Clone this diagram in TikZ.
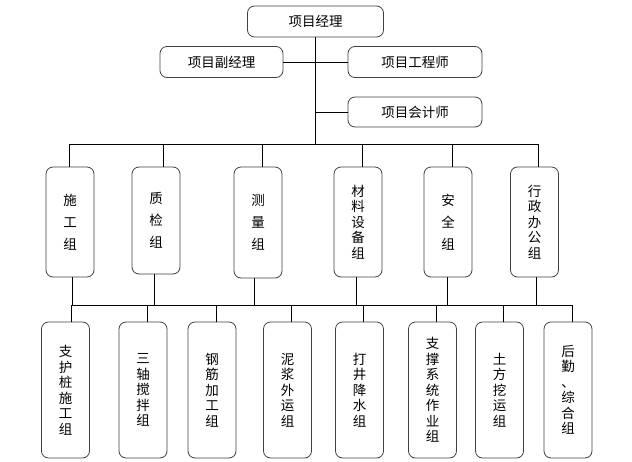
\documentclass[tikz,border=0pt]{standalone}
\usepackage{fontspec}
\newfontfamily\cjk{Noto Sans CJK SC}
\usetikzlibrary{calc}

\tikzset{
  box/.style={draw=black!75, rounded corners=7pt, line width=0.8pt, inner sep=0pt, font=\cjk\fontsize{13.5}{16}\selectfont},
  wide/.style={box, minimum height=31pt},
  tall/.style={box, minimum width=48pt, minimum height=110pt, align=center, font=\cjk\fontsize{13.5}{22}\selectfont},
  tallc/.style={tall, font=\cjk\fontsize{13.5}{15.5}\selectfont},
  low/.style={box, minimum width=48pt, minimum height=136pt, align=center, font=\cjk\fontsize{13.5}{15.5}\selectfont},
  link/.style={line width=0.8pt}
}

\begin{document}
\begin{tikzpicture}[x=1pt,y=-1pt]
			\useasboundingbox (0,0) rectangle (632,461);
			
			\node[wide, minimum width=136pt] (pm) at (315.5,21.5) {项目经理};
			\node[wide, minimum width=123pt] (fu) at (221.5,62) {项目副经理};
			\node[wide, minimum width=134pt] (gc) at (415,62) {项目工程师};
			\node[wide, minimum width=134pt, minimum height=30pt] (kj) at (415,112) {项目会计师};
			
			\coordinate (trunk) at (pm.south |- 0,144);
			\draw[link] (pm.south) -- (trunk);
			\draw[link] (fu.east) -- (fu.east -| pm.south);
			\draw[link] (gc.west) -- (gc.west -| pm.south);
			\draw[link] (kj.west) -- (kj.west -| pm.south);
			
			\node[tall] (sg) at (70,222) {施\\工\\组};
			\node[tall, minimum height=107pt] (zj) at (156,220.5) {质\\检\\组};
			\node[tall, minimum height=111pt] (cl) at (258,222.5) {测\\量\\组};
			\node[tallc] (sb) at (358,222) {材\\料\\设\\备\\组};
			\node[tall] (aq) at (448,222) {安\\全\\组};
			\node[tallc] (xz) at (534.5,222) {行\\政\\办\\公\\组};
			
			% upper bus
			\coordinate (ua) at (69,144);
			\coordinate (ub) at (163,144);
			\coordinate (uc) at (262,144);
			\coordinate (ud) at (362,144);
			\coordinate (ue) at (452,144);
			\coordinate (uf) at (538,144);
			\draw[link] (ua) -- (uf);
			\draw[link] (ua) -- (ua |- sg.north);
			\draw[link] (ub) -- (ub |- zj.north);
			\draw[link] (uc) -- (uc |- cl.north);
			\draw[link] (ud) -- (ud |- sb.north);
			\draw[link] (ue) -- (ue |- aq.north);
			\draw[link] (uf) -- (uf |- xz.north);
			
			% lower bus
			\coordinate (la) at (72,305);
			\coordinate (lb) at (154,305);
			\coordinate (lc) at (254,305);
			\coordinate (ld) at (356,305);
			\coordinate (le) at (447,305);
			\coordinate (lf) at (536,305);
			\coordinate (lend) at (573,305);
			\draw[link] (la |- sg.south) -- (la);
			\draw[link] (lb |- zj.south) -- (lb);
			\draw[link] (lc |- cl.south) -- (lc);
			\draw[link] (ld |- sb.south) -- (ld);
			\draw[link] (le |- aq.south) -- (le);
			\draw[link] (lf |- xz.south) -- (lf);
			\draw[link] (71,305) -- (lend);
			
			\node[low] (zh) at (65.5,390) {支\\护\\桩\\施\\工\\组};
			\node[low] (sz) at (143,390) {三\\轴\\搅\\拌\\组};
			\node[low] (gj) at (212,390) {钢\\筋\\加\\工\\组};
			\node[low] (nj) at (287.5,390) {泥\\浆\\外\\运\\组};
			\node[low] (dj) at (359.5,390) {打\\井\\降\\水\\组};
			\node[low] (zc) at (432.5,390) {支\\撑\\系\\统\\作\\业\\组};
			\node[low] (tf) at (499.5,390) {土\\方\\挖\\运\\组};
			\node[low] (hq) at (568,390) {后\\勤\\、\\综\\合\\组};
			
			\coordinate (da) at (71,305);
			\coordinate (db) at (147,305);
			\coordinate (dc) at (216,305);
			\coordinate (dd) at (291,305);
			\coordinate (de) at (363,305);
			\coordinate (df) at (436,305);
			\coordinate (dg) at (503,305);
			\coordinate (dh) at (572,305);
			\draw[link] (da) -- (da |- zh.north);
			\draw[link] (db) -- (db |- sz.north);
			\draw[link] (dc) -- (dc |- gj.north);
			\draw[link] (dd) -- (dd |- nj.north);
			\draw[link] (de) -- (de |- dj.north);
			\draw[link] (df) -- (df |- zc.north);
			\draw[link] (dg) -- (dg |- tf.north);
			\draw[link] (dh) -- (dh |- hq.north);
\end{tikzpicture}
\end{document}
